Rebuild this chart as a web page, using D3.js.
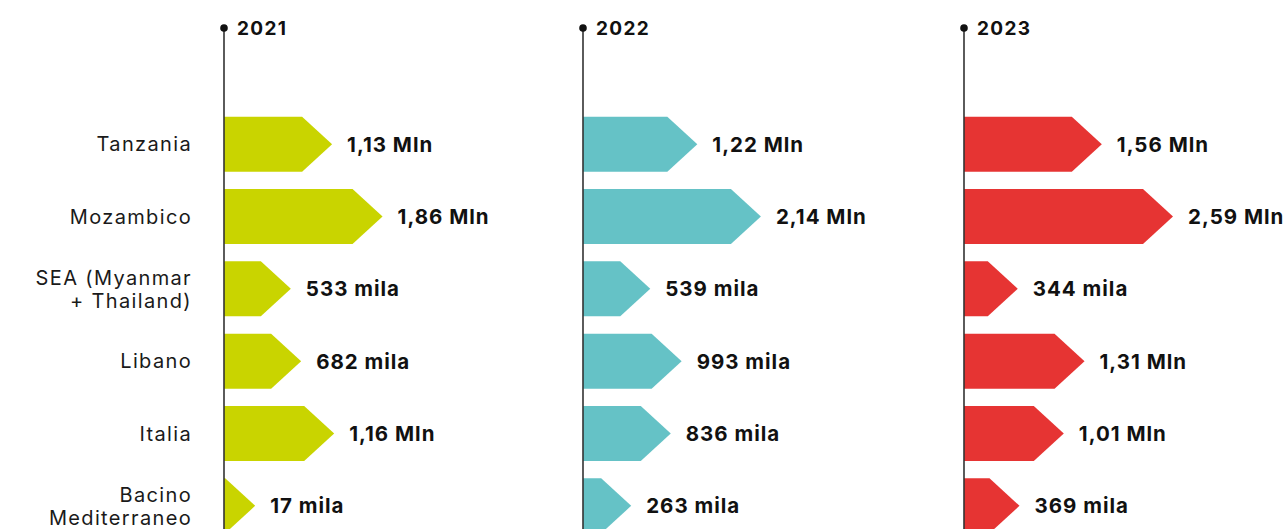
<!DOCTYPE html>
<html>
<head>
<meta charset="utf-8">
<script src="https://cdn.jsdelivr.net/npm/d3@7"></script>
<style>
  html, body { margin: 0; padding: 0; background: #fff; overflow: hidden; }
  svg { display: block; }
</style>
</head>
<body>
<svg id="chart" width="1284" height="529"></svg>
<script>
// ---- data ----
const categories = [
  ["Tanzania"],
  ["Mozambico"],
  ["SEA (Myanmar", "+ Thailand)"],
  ["Libano"],
  ["Italia"],
  ["Bacino", "Mediterraneo"]
];
const years = ["2021", "2022", "2023"];
// values in millions
const values2021 = [1.13, 1.86, 0.533, 0.682, 1.16, 0.017];
const values2022 = [1.22, 2.14, 0.539, 0.993, 0.836, 0.263];
const values2023 = [1.56, 2.59, 0.344, 1.31, 1.01, 0.369];
const labels2021 = ["1,13 Mln", "1,86 Mln", "533 mila", "682 mila", "1,16 Mln", "17 mila"];
const labels2022 = ["1,22 Mln", "2,14 Mln", "539 mila", "993 mila", "836 mila", "263 mila"];
const labels2023 = ["1,56 Mln", "2,59 Mln", "344 mila", "1,31 Mln", "1,01 Mln", "369 mila"];
const colors = ["#c9d400", "#65c2c6", "#e63433"];

const series = [
  { year: years[0], values: values2021, labels: labels2021, color: colors[0] },
  { year: years[1], values: values2022, labels: labels2022, color: colors[1] },
  { year: years[2], values: values2023, labels: labels2023, color: colors[2] }
];

// ---- layout ----
const svg = d3.select("#chart");
const FONT = "Inter, 'Noto Sans', sans-serif";
const colX = [224, 583, 964];
const axisTop = 28;
const headDepth = 30;

const y = d3.scaleBand()
  .domain(d3.range(categories.length))
  .range([108, 542])
  .paddingInner(0.24)
  .paddingOuter(0.12);

const x = d3.scaleLinear()
  .domain([0, d3.max(series, s => d3.max(s.values))])
  .range([0, 179]);

// category labels
const catG = svg.append("g");
categories.forEach((lines, i) => {
  const cy = y(i) + y.bandwidth() / 2;
  const lh = 23;
  const t = catG.append("text")
    .attr("x", 191)
    .attr("text-anchor", "end")
    .attr("font-family", FONT)
    .attr("font-size", 20)
    .attr("letter-spacing", 1.35)
    .attr("fill", "#1a1a1a");
  lines.forEach((ln, j) => {
    t.append("tspan")
      .attr("x", 192)
      .attr("y", cy + (j - (lines.length - 1) / 2) * lh)
      .attr("dy", "0.36em")
      .text(ln);
  });
});

series.forEach((s, k) => {
  const g = svg.append("g").attr("transform", `translate(${colX[k]},0)`);

  // bars (arrow shapes)
  s.values.forEach((v, i) => {
    const top = y(i), h = y.bandwidth(), bot = top + h, mid = top + h / 2;
    const body = x(v);
    const pts = [[0, top], [body, top], [body + headDepth, mid], [body, bot], [0, bot]];
    g.append("path")
      .attr("d", d3.line()(pts) + "Z")
      .attr("fill", s.color);
    g.append("text")
      .attr("x", body + headDepth + 15)
      .attr("y", mid)
      .attr("dy", "0.36em")
      .attr("font-family", FONT)
      .attr("font-weight", 700)
      .attr("font-size", 20.5)
      .attr("letter-spacing", 1.0)
      .attr("fill", "#111")
      .text(s.labels[i]);
  });

  // axis line
  g.append("line")
    .attr("x1", 0).attr("x2", 0)
    .attr("y1", axisTop).attr("y2", 529)
    .attr("stroke", "#333")
    .attr("stroke-width", 1.6);
  g.append("circle")
    .attr("cx", 0).attr("cy", axisTop)
    .attr("r", 3.8)
    .attr("fill", "#111");
  g.append("text")
    .attr("x", 13)
    .attr("y", axisTop)
    .attr("dy", "0.36em")
    .attr("font-family", FONT)
    .attr("font-weight", 700)
    .attr("font-size", 19)
    .attr("letter-spacing", 1.3)
    .attr("fill", "#111")
    .text(s.year);
});
</script>
</body>
</html>
